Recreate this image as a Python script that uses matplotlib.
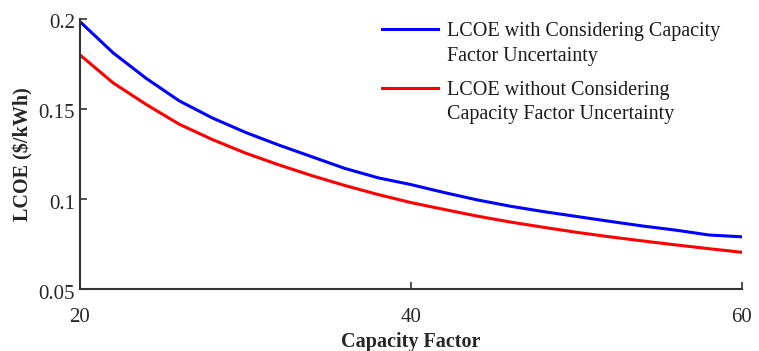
import matplotlib
matplotlib.use("Agg")
import matplotlib.pyplot as plt
from matplotlib.lines import Line2D
from matplotlib.transforms import ScaledTranslation

capacity_factor = [20, 22, 24, 26, 28, 30, 32, 34, 36, 38, 40, 42, 44, 46, 48, 50, 52, 54, 56, 58, 60]
lcoe_with = [0.1985, 0.1812, 0.1670, 0.1545, 0.1450, 0.1370, 0.1300, 0.1235, 0.1170, 0.1118, 0.1080,
             0.1036, 0.0995, 0.0960, 0.0930, 0.0903, 0.0876, 0.0850, 0.0827, 0.0800, 0.0790]
lcoe_without = [0.1800, 0.1645, 0.1525, 0.1415, 0.1330, 0.1255, 0.1190, 0.1130, 0.1075, 0.1025, 0.0980,
                0.0942, 0.0905, 0.0872, 0.0843, 0.0815, 0.0790, 0.0767, 0.0745, 0.0724, 0.0704]
label_with = ["LCOE with Considering Capacity", "Factor Uncertainty"]
label_without = ["LCOE without Considering", "Capacity Factor Uncertainty"]
x_ticks = [20, 40, 60]
y_ticks = [0.05, 0.1, 0.15, 0.2]
y_tick_labels = ["0.05", "0.1", "0.15", "0.2"]

plt.rcParams['font.family'] = ['Liberation Serif', 'DejaVu Serif']

fig = plt.figure(figsize=(7.59, 3.51), dpi=100)
ax = fig.add_axes([0.1054, 0.1766, 0.8722, 0.7693])

l1, = ax.plot(capacity_factor, lcoe_with, color='#0000ff', lw=2.2)
l2, = ax.plot(capacity_factor, lcoe_without, color='#ff0000', lw=2.2)

ax.set_xlim(20, 60)
ax.set_ylim(0.05, 0.2)
ax.set_xticks(x_ticks)
ax.set_yticks(y_ticks)
ax.set_yticklabels(y_tick_labels)

for s in ['top', 'right']:
    ax.spines[s].set_visible(False)
for s in ['left', 'bottom']:
    ax.spines[s].set_color('#333333')
    ax.spines[s].set_linewidth(1.5)

ax.tick_params(direction='in', length=5, width=1.2, color='#333333', labelsize=15, labelcolor='#262626')
ax.tick_params(axis='x', pad=13.5)
ax.tick_params(axis='y', pad=3.5)

shift = ScaledTranslation(0, -0.025, fig.dpi_scale_trans)
for lab in ax.get_yticklabels():
    lab.set_transform(lab.get_transform() + shift)

ax.set_xlabel("Capacity Factor", fontsize=14.5, fontweight='bold', color='#262626', labelpad=4)
ax.set_ylabel("LCOE (\\$/kWh)", fontsize=14.5, fontweight='bold', color='#262626', labelpad=3.5)

blank = Line2D([], [], color='none')
legend_kw = dict(loc='upper left', frameon=False, fontsize=14.5, handlelength=2.8,
                 handletextpad=0.45, labelspacing=0.28, borderpad=0, borderaxespad=0,
                 bbox_transform=fig.transFigure)
leg1 = ax.legend([l1, blank], label_with, bbox_to_anchor=(0.5033, 0.9373), **legend_kw)
ax.add_artist(leg1)
leg2 = ax.legend([l2, blank], label_without, bbox_to_anchor=(0.5033, 0.7704), **legend_kw)
for leg in (leg1, leg2):
    for t in leg.get_texts():
        t.set_color('#1a1a1a')

fig.savefig("out.png", dpi=100)
